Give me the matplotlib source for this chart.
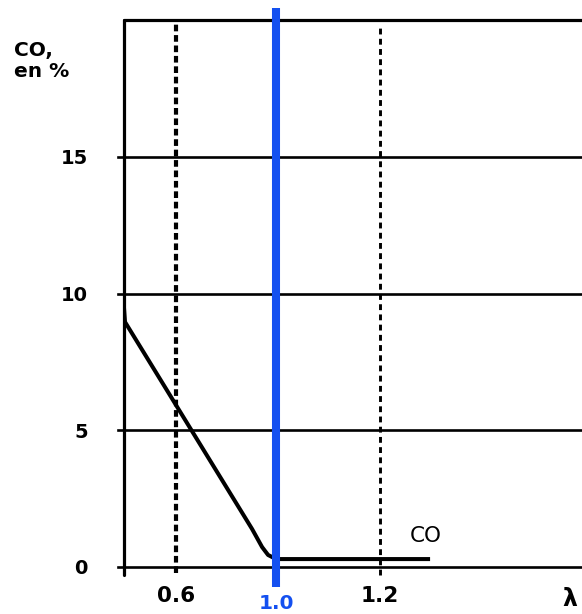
import numpy as np
import matplotlib
matplotlib.use("Agg")
import matplotlib.pyplot as plt

# ---- data ----
lam = [0.392, 0.396, 0.904, 0.944, 0.968, 1.0, 1.296]
co = [9.47, 8.96, 1.39, 0.73, 0.44, 0.29, 0.29]
y_ticks = [0, 5, 10, 15]
y_labels = ["0", "5", "10", "15"]
y_top = 20
x_ticks = [0.6, 1.2]
x_labels = ["0.6", "1.2"]
lam_stoich = 1.0
curve_label = "CO"

# hand-drawn (non-uniform) lambda axis of the original figure
scale_lam = [0.2, 0.6, 1.0, 1.2, 2.0]
scale_pos = [76.0, 176.0, 276.0, 380.0, 796.0]

def fwd(x):
    return np.interp(x, scale_lam, scale_pos)

def inv(p):
    return np.interp(p, scale_pos, scale_lam)

W, H = 582, 614
fig = plt.figure(figsize=(W / 100, H / 100), dpi=100)
ax = fig.add_axes([124 / W, 1 - 567 / H, (582 - 124) / W, (567 - 20) / H])
ax.set_xscale("function", functions=(fwd, inv))
ax.set_xlim(0.392, 1.588)
ax.set_ylim(0, y_top)
for s in ax.spines.values():
    s.set_visible(False)

bold = dict(family="DejaVu Sans", weight="bold")
ax_h = 567 - 20
ax_w = 582 - 124

# frame lines
ax.axhline(y_top, color="black", lw=2.3, clip_on=False, solid_capstyle="round")
ax.axvline(0.392, ymin=-8 / ax_h, ymax=1, color="black", lw=2.3, clip_on=False,
           solid_capstyle="round")
for v in y_ticks:
    ax.axhline(v, xmin=-6 / ax_w, xmax=1, color="black", lw=1.9, clip_on=False)

# dashed reference lines
ax.axvline(0.6, ymin=-6 / ax_h, ymax=0.996, color="black", lw=3.0,
           linestyle=(0, (1.6, 0.9)), clip_on=False)
ax.axvline(1.2, ymin=-8 / ax_h, ymax=0.987, color="black", lw=2.1,
           linestyle=(0, (2.0, 1.5)), clip_on=False)

# CO curve (smooth the knee towards the plateau)
ax.plot(lam, co, color="black", lw=2.9, solid_joinstyle="round",
        solid_capstyle="butt", zorder=4)
ax.text(1.288, 1.15, curve_label, fontsize=15.5, family="DejaVu Sans",
        ha="center", va="center")

# stoichiometric line (blue)
blue = "#1450f0"
ax.axvline(lam_stoich, ymin=-20 / ax_h, ymax=559 / ax_h, color=blue, lw=5.8,
           clip_on=False, zorder=5, solid_capstyle="butt")

# ticks
ax.set_yticks(y_ticks)
ax.set_yticklabels(y_labels, fontsize=14, **bold)
ax.tick_params(axis="y", length=0, pad=26)
ax.set_xticks(x_ticks)
ax.set_xticklabels(x_labels, fontsize=15.5, **bold)
ax.tick_params(axis="x", length=0, pad=14)
ax.text(lam_stoich, -27 / ax_h, "1.0", transform=ax.get_xaxis_transform(),
        ha="center", va="top", fontsize=14.5, color=blue, **bold)

# axis labels
ax.set_xlabel("λ", fontsize=17, **bold)
ax.xaxis.set_label_coords((570 - 124) / ax_w, -20 / ax_h)
ax.set_ylabel("CO,\nen %", fontsize=14.5, rotation=0, ha="left", va="top",
              multialignment="left", linespacing=1.15, **bold)
ax.yaxis.set_label_coords((14 - 124) / ax_w, (567 - 41) / ax_h)

fig.savefig("out.png", dpi=100)
